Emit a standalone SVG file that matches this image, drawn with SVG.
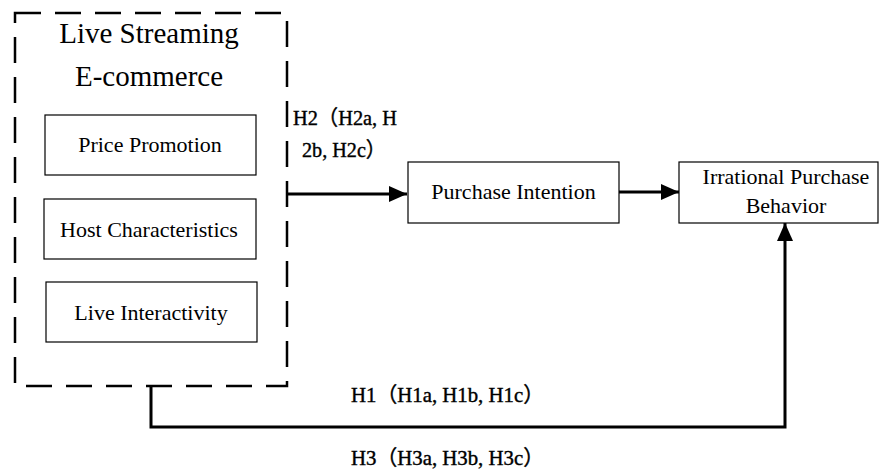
<svg xmlns="http://www.w3.org/2000/svg" width="879" height="474" viewBox="0 0 879 474">
<style>
.box{fill:#fff;stroke:#000;stroke-width:1.2}
.t{font-family:"Liberation Serif","Times New Roman",serif;font-size:22px;fill:#000;text-anchor:middle}
.title{font-family:"Liberation Serif","Times New Roman",serif;font-size:29px;fill:#000;text-anchor:middle}
.h{font-family:"Liberation Serif","Noto Sans CJK SC",serif;font-size:21px;fill:#000;stroke:#000;stroke-width:0.4}
.con{fill:none;stroke:#000;stroke-width:3}
</style>
<defs>
<marker id="ah" viewBox="0 0 18 16" refX="18" refY="8" markerWidth="18" markerHeight="16" markerUnits="userSpaceOnUse" orient="auto">
<path d="M0 0 L18 8 L0 16 Z" fill="#000"/>
</marker>
</defs>
<rect width="879" height="474" fill="#fff"/>
<g id="group-live">
<rect x="15" y="13" width="272" height="373" fill="none" stroke="#000" stroke-width="2.5" stroke-dasharray="26 14"/>
<text class="title" x="149" y="43">Live Streaming</text>
<text class="title" x="149" y="86">E-commerce</text>
</g>
<g id="price">
<rect class="box" x="45" y="115" width="211" height="60"/>
<text class="t" x="150" y="152">Price Promotion</text>
</g>
<g id="host">
<rect class="box" x="44" y="199" width="212" height="60"/>
<text class="t" x="149" y="237">Host Characteristics</text>
</g>
<g id="interact">
<rect class="box" x="46" y="282" width="211" height="60"/>
<text class="t" x="151" y="320">Live Interactivity</text>
</g>
<g id="intention">
<rect class="box" x="408" y="162" width="211" height="61"/>
<text class="t" x="513.5" y="199">Purchase Intention</text>
</g>
<g id="irrational">
<rect class="box" x="679" y="162" width="199" height="61"/>
<text class="t" x="786" y="184">Irrational Purchase</text>
<text class="t" x="786" y="213">Behavior</text>
</g>
<g id="connectors">
<path class="con" d="M287 194 H407" marker-end="url(#ah)"/>
<path class="con" d="M619 192 H679" marker-end="url(#ah)"/>
<path class="con" d="M151 386 V427 H785 V223" marker-end="url(#ah)"/>
</g>
<g id="labels">
<text class="h" x="293" y="125" textLength="104" lengthAdjust="spacingAndGlyphs">H2（H2a, H</text>
<text class="h" x="302" y="157" textLength="84" lengthAdjust="spacingAndGlyphs">2b, H2c）</text>
<text class="h" x="351" y="402" textLength="193" lengthAdjust="spacingAndGlyphs">H1（H1a, H1b, H1c）</text>
<text class="h" x="351" y="465" textLength="193" lengthAdjust="spacingAndGlyphs">H3（H3a, H3b, H3c）</text>
</g>
</svg>
